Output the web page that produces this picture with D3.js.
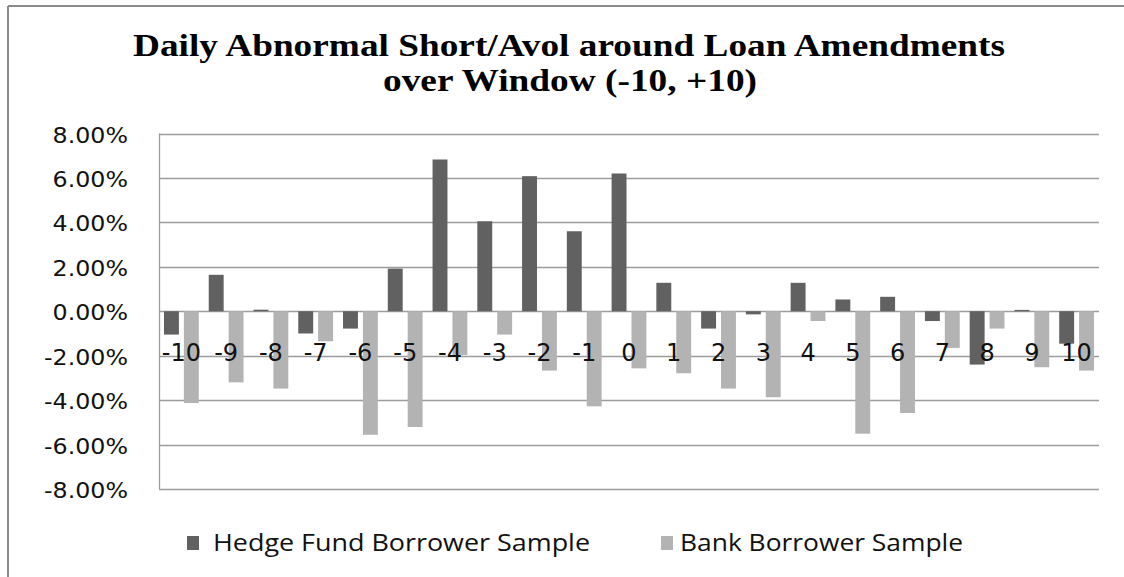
<!DOCTYPE html>
<html>
<head>
<meta charset="utf-8">
<script src="https://cdn.jsdelivr.net/npm/d3@7"></script>
<style>
  html, body { margin: 0; padding: 0; background: #fff; }
  svg { display: block; }
</style>
</head>
<body>
<svg id="chart" width="1124" height="577"></svg>
<script>
// Event days around the loan amendment
const days = [-10, -9, -8, -7, -6, -5, -4, -3, -2, -1, 0, 1, 2, 3, 4, 5, 6, 7, 8, 9, 10];

// Daily abnormal short/avol, in percent
const hedgeFund = [-1.05, 1.64, 0.07, -1.00, -0.78, 1.92, 6.83, 4.05, 6.08, 3.60, 6.20,
                   1.28, -0.78, -0.14, 1.28, 0.53, 0.65, -0.44, -2.40, 0.06, -1.46];
const bank = [-4.13, -3.20, -3.48, -1.35, -5.56, -5.21, -1.97, -1.05, -2.67, -4.28, -2.57,
              -2.79, -3.48, -3.87, -0.44, -5.51, -4.58, -1.65, -0.78, -2.52, -2.67];

const yTicks = [-8, -6, -4, -2, 0, 2, 4, 6, 8];
const seriesNames = ["Hedge Fund Borrower Sample", "Bank Borrower Sample"];
const seriesColors = ["#616161", "#b3b3b3"];
const titleLines = ["Daily Abnormal Short/Avol around Loan Amendments", "over Window (-10, +10)"];

const svg = d3.select("#chart");

// Outer frame (top and left edges)
svg.append("line").attr("x1", 8).attr("x2", 1124).attr("y1", 6).attr("y2", 6)
  .attr("stroke", "#8a8a8a").attr("stroke-width", 2);
svg.append("line").attr("x1", 8).attr("x2", 8).attr("y1", 6).attr("y2", 577)
  .attr("stroke", "#8a8a8a").attr("stroke-width", 2);

// Title
const titleSpans = [[133, 1005, 56], [383, 757, 90.5]];
titleLines.forEach((t, i) => {
  const [x0, x1, y] = titleSpans[i];
  svg.append("text")
    .attr("x", x0).attr("y", y)
    .attr("textLength", x1 - x0)
    .attr("lengthAdjust", "spacingAndGlyphs")
    .attr("font-family", "'Liberation Serif', 'Times New Roman', serif")
    .attr("font-weight", "bold")
    .attr("font-size", 32)
    .attr("fill", "#000")
    .text(t);
});

// Scales
const x = d3.scaleBand().domain(days).range([159, 1099]).paddingInner(0).paddingOuter(0);
const xs = d3.scaleBand().domain([0, 1]).range([0, x.bandwidth()]).paddingInner(0.25).paddingOuter(0.25);
const y = d3.scaleLinear().domain([-8, 8]).range([489, 133.5]);

// Gridlines
svg.append("g")
  .selectAll("line").data(yTicks).join("line")
  .attr("x1", 159).attr("x2", 1099)
  .attr("y1", d => Math.round(y(d)) + 0.5).attr("y2", d => Math.round(y(d)) + 0.5)
  .attr("stroke", "#9c9c9c").attr("stroke-width", 1.3);

// Vertical axis line
svg.append("line")
  .attr("x1", 159.5).attr("x2", 159.5).attr("y1", y(8)).attr("y2", y(-8))
  .attr("stroke", "#9c9c9c").attr("stroke-width", 1.3);

// Y axis tick labels
const yAxis = d3.axisLeft(y).tickValues(yTicks).tickSize(0).tickPadding(0)
  .tickFormat(d => d.toFixed(2) + "%");
const gy = svg.append("g").attr("transform", "translate(128,0)").call(yAxis);
gy.select(".domain").remove();
gy.selectAll("text")
  .attr("font-family", "'DejaVu Sans', Verdana, sans-serif")
  .attr("font-size", 21)
  .attr("fill", "#111")
  .attr("dy", null)
  .attr("y", 8.5)
  .attr("textLength", function () { return this.getComputedTextLength() * 1.13; })
  .attr("lengthAdjust", "spacingAndGlyphs");

// Bars
const series = [hedgeFund, bank];
series.forEach((vals, si) => {
  svg.append("g")
    .selectAll("rect").data(days.map((d, i) => ({ day: d, v: vals[i] }))).join("rect")
    .attr("x", d => x(d.day) + xs(si))
    .attr("width", xs.bandwidth())
    .attr("y", d => y(Math.max(0, d.v)))
    .attr("height", d => Math.abs(y(d.v) - y(0)))
    .attr("fill", seriesColors[si]);
});

// Category labels, sitting along the -2% line
const xAxis = d3.axisBottom(x).tickSize(0).tickPadding(0);
const gx = svg.append("g").attr("transform", "translate(0,361)").call(xAxis);
gx.select(".domain").remove();
gx.selectAll("text")
  .attr("font-family", "'DejaVu Sans', Verdana, sans-serif")
  .attr("font-size", 24)
  .attr("fill", "#111")
  .attr("dy", null)
  .attr("y", 0);

// Legend
const legendItems = [
  { sx: 187, tx: 213, tw: 377 },
  { sx: 661, tx: 680, tw: 283 }
];
legendItems.forEach((l, i) => {
  svg.append("rect")
    .attr("x", l.sx).attr("y", 536).attr("width", 12).attr("height", 14)
    .attr("fill", seriesColors[i]);
  svg.append("text")
    .attr("x", l.tx).attr("y", 551)
    .attr("textLength", l.tw)
    .attr("lengthAdjust", "spacingAndGlyphs")
    .attr("font-family", "'Open Sans', Lato, sans-serif")
    .attr("font-size", 24)
    .attr("fill", "#111")
    .text(seriesNames[i]);
});
</script>
</body>
</html>
